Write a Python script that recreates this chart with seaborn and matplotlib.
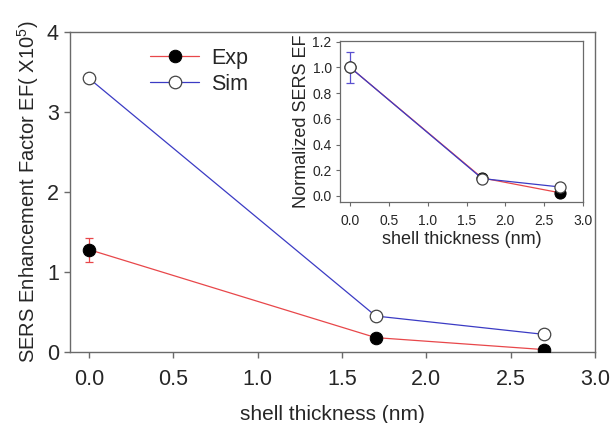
import numpy as np
import pandas as pd
import matplotlib
matplotlib.use("Agg")
import matplotlib.pyplot as plt
import seaborn as sns

thickness = [0.0, 1.7, 2.7]
exp_ef = [1.28, 0.18, 0.03]
sim_ef = [3.42, 0.45, 0.22]
exp_err = [0.15, 0.0, 0.0]
norm_exp = [1.0, 0.14, 0.025]
norm_sim = [1.0, 0.135, 0.07]
norm_err = [0.12, 0.0, 0.0]
x_ticks = [0.0, 0.5, 1.0, 1.5, 2.0, 2.5, 3.0]
y_ticks = [0, 1, 2, 3, 4]
inset_y_ticks = [0.0, 0.2, 0.4, 0.6, 0.8, 1.0, 1.2]

sns.set_style("white")
plt.rcParams['font.family'] = ['Liberation Sans', 'DejaVu Sans']
plt.rcParams['mathtext.fontset'] = 'custom'
plt.rcParams['mathtext.rm'] = 'Liberation Sans'
plt.rcParams['mathtext.it'] = 'Liberation Sans'

RED = "#e8474a"
BLUE = "#3b3bc4"
SPINE = "#6a6a6a"

fig = plt.figure(figsize=(6.13, 4.23), dpi=100)
ax = fig.add_axes([0.1142, 0.1678, 0.8564, 0.7565])

df_exp = pd.DataFrame({"x": thickness, "y": exp_ef})
df_sim = pd.DataFrame({"x": thickness, "y": sim_ef})

ax.errorbar(thickness, exp_ef, yerr=exp_err, fmt='none', ecolor=RED, elinewidth=0.9, capsize=3, capthick=0.9, zorder=2)
sns.lineplot(data=df_exp, x="x", y="y", ax=ax, color=RED, lw=0.9, marker='o', markersize=9,
             markerfacecolor='black', markeredgecolor='black', label='Exp', zorder=3)
sns.lineplot(data=df_sim, x="x", y="y", ax=ax, color=BLUE, lw=0.9, marker='o', markersize=9,
             markerfacecolor='white', markeredgecolor='#444444', markeredgewidth=0.9, label='Sim', zorder=3)

ax.set_xlim(-0.113, 3.0)
ax.set_ylim(0, 4)
ax.set_xticks(x_ticks)
ax.set_xticklabels([f"{v:.1f}" for v in x_ticks])
ax.set_yticks(y_ticks)
ax.tick_params(axis='both', bottom=True, left=True, direction='out', length=4, width=1,
               color=SPINE, labelsize=15.5, pad=4)
ax.tick_params(axis='x', pad=8)
for s in ax.spines.values():
    s.set_color(SPINE)
    s.set_linewidth(1.0)
ax.set_xlabel("shell thickness (nm)", fontsize=15, labelpad=11)
ax.set_ylabel("SERS Enhancement Factor EF( X10$^5$)", fontsize=14.5, labelpad=4)

leg = ax.legend(loc='upper left', bbox_to_anchor=(0.115, 1.012), frameon=False, fontsize=15.5,
                handlelength=2.3, handletextpad=0.55, labelspacing=0.25)

# inset
axin = fig.add_axes([0.5547, 0.5225, 0.3964, 0.3806])
dn_exp = pd.DataFrame({"x": thickness, "y": norm_exp})
dn_sim = pd.DataFrame({"x": thickness, "y": norm_sim})
axin.errorbar(thickness, norm_exp, yerr=norm_err, fmt='none', ecolor="#5a50d0", elinewidth=0.9, capsize=3, capthick=0.9, zorder=2)
sns.lineplot(data=dn_exp, x="x", y="y", ax=axin, color=RED, lw=0.9, marker='o', markersize=8,
             markerfacecolor='black', markeredgecolor='black', zorder=3)
sns.lineplot(data=dn_sim, x="x", y="y", ax=axin, color=BLUE, lw=0.9, marker='o', markersize=8,
             markerfacecolor='white', markeredgecolor='#444444', markeredgewidth=0.9, zorder=3)
axin.set_xlim(-0.13, 3.0)
axin.set_ylim(-0.047, 1.205)
axin.set_xticks(x_ticks)
axin.set_xticklabels([f"{v:.1f}" for v in x_ticks])
axin.set_yticks(inset_y_ticks)
axin.set_yticklabels([f"{v:.1f}" for v in inset_y_ticks])
axin.tick_params(axis='both', bottom=True, left=True, direction='out', length=3, width=0.8,
                 color=SPINE, labelsize=10, pad=3)
axin.tick_params(axis='x', pad=6)
for s in axin.spines.values():
    s.set_color(SPINE)
    s.set_linewidth(0.9)
axin.set_xlabel("shell thickness (nm)", fontsize=13, labelpad=2)
axin.set_ylabel("Normalized SERS EF", fontsize=13, labelpad=2)

fig.savefig("out.png", dpi=100)
